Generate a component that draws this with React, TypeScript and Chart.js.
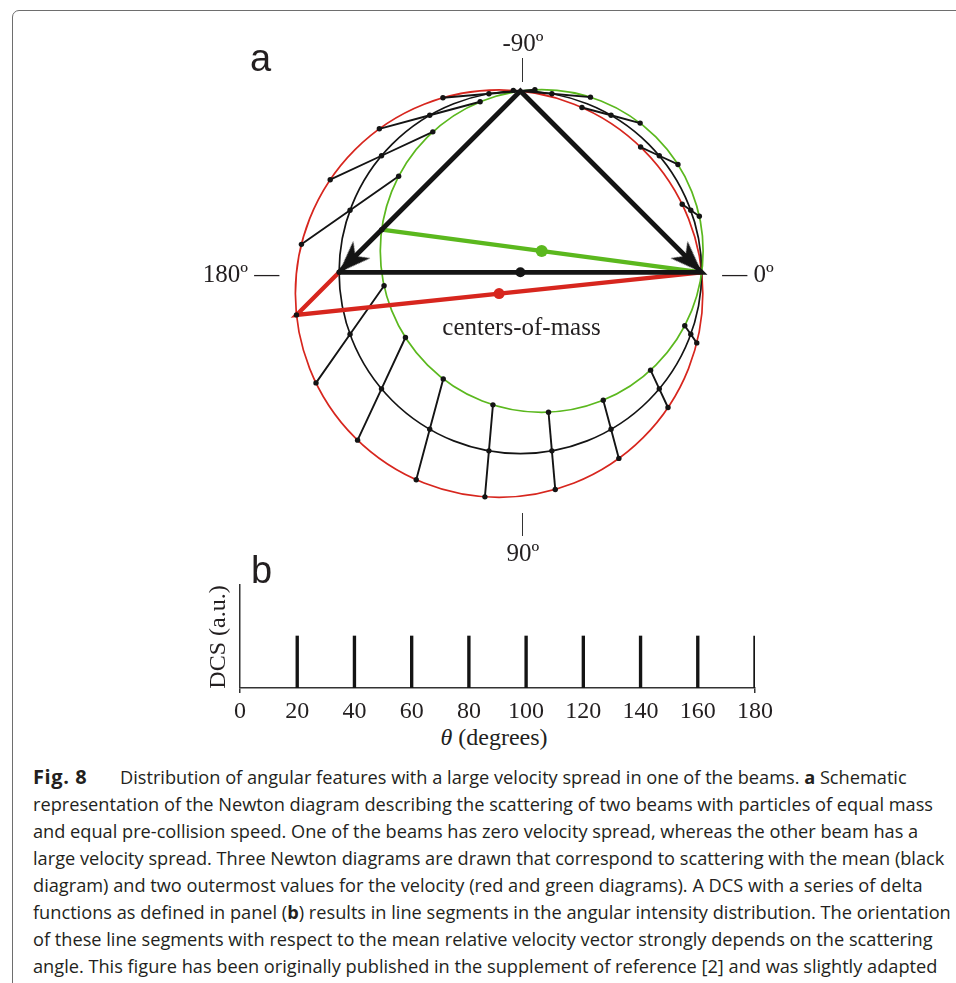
import { useEffect, useRef } from "react";
import Chart from "chart.js/auto";

// ---- panel b: DCS made of delta functions ----
const DCS_ANGLES = [20, 40, 60, 80, 100, 120, 140, 160, 180];
const DCS_VALUES = [1, 1, 1, 1, 1, 1, 1, 1, 1];
const DCS_TICKS = [0, 20, 40, 60, 80, 100, 120, 140, 160, 180];

// ---- panel a: Newton diagram (unit = half the mean relative speed) ----
const LAB_ORIGIN = [0, 1];
const BEAM_A_MEAN = [-1, -1]; // beam with the large velocity spread
const BEAM_B = [1, -1]; // beam with zero spread
const SPEED_FACTORS = [1.235, 1, 0.765]; // red (fast), black (mean), green (slow)
const DIAGRAM_COLORS = ["#d7261e", "#141414", "#5bb81e"];
const COM_DOT_RADIUS = [5.5, 5, 6];

// layout of panel a on the page
const A_LEFT = 160, A_TOP = 20, A_W = 720, A_H = 540;
const UNIT_PX = 181.3;
const CENTER_PX = [520.4, 272.3];

const SERIF = "'Liberation Serif', 'Times New Roman', serif";
const SANS = "'Liberation Sans', Arial, sans-serif";
const CAPTION_FONT = "'Open Sans', 'Noto Sans', sans-serif";
const INK = "#231f20";

type P = { x: number; y: number };

function buildDiagram(s: number) {
  const a = { x: LAB_ORIGIN[0] + s * BEAM_A_MEAN[0], y: LAB_ORIGIN[1] + s * BEAM_A_MEAN[1] };
  const b = { x: LAB_ORIGIN[0] + BEAM_B[0], y: LAB_ORIGIN[1] + BEAM_B[1] };
  const c = { x: (a.x + b.x) / 2, y: (a.y + b.y) / 2 };
  const rx = (b.x - a.x) / 2, ry = (b.y - a.y) / 2;
  const R = Math.hypot(rx, ry);
  // point on the Newton sphere at scattering angle deg (from the relative velocity)
  const at = (deg: number): P => {
    const t = (deg * Math.PI) / 180;
    return { x: c.x + rx * Math.cos(t) - ry * Math.sin(t), y: c.y + rx * Math.sin(t) + ry * Math.cos(t) };
  };
  return { a, b, c, R, at };
}

function makeArrowHead(): HTMLCanvasElement {
  const cv = document.createElement("canvas");
  cv.width = 72;
  cv.height = 72;
  const g = cv.getContext("2d")!;
  const m = 36;
  g.fillStyle = "#141414";
  g.beginPath();
  g.moveTo(m, m);
  g.lineTo(m + 12, m + 32);
  g.lineTo(m, m + 23);
  g.lineTo(m - 12, m + 32);
  g.closePath();
  g.fill();
  return cv;
}

function Text({ x, y, size = 25, family = SERIF, children, rotate = 0 }: any) {
  return (
    <div
      style={{
        position: "absolute", left: x, top: y, fontFamily: family, fontSize: size, lineHeight: 1,
        color: INK, whiteSpace: "nowrap", transform: `translate(-50%, -50%) rotate(${rotate}deg)`,
      }}
    >
      {children}
    </div>
  );
}

function Tick({ x, y1, y2 }: { x: number; y1: number; y2: number }) {
  return <div style={{ position: "absolute", left: x - 0.65, top: y1, width: 1.3, height: y2 - y1, background: "#333" }} />;
}

const CAPTION = [
  <><b style={{ display: "inline-block", width: 87, fontSize: 20, letterSpacing: 0.6 }}>Fig. 8</b>Distribution of angular features with a large velocity spread in one of the beams. <b>a</b> Schematic</>,
  <>representation of the Newton diagram describing the scattering of two beams with particles of equal mass</>,
  <>and equal pre-collision speed. One of the beams has zero velocity spread, whereas the other beam has a</>,
  <>large velocity spread. Three Newton diagrams are drawn that correspond to scattering with the mean (black</>,
  <>diagram) and two outermost values for the velocity (red and green diagrams). A DCS with a series of delta</>,
  <>functions as defined in panel (<b>b</b>) results in line segments in the angular intensity distribution. The orientation</>,
  <>of these line segments with respect to the mean relative velocity vector strongly depends on the scattering</>,
  <>angle. This figure has been originally published in the supplement of reference [2] and was slightly adapted</>,
];

export default function App() {
  const aRef = useRef<HTMLCanvasElement>(null);
  const bRef = useRef<HTMLCanvasElement>(null);

  useEffect(() => {
    if (!aRef.current || !bRef.current) return;
    const arrow = makeArrowHead();

    const diagrams = SPEED_FACTORS.map(buildDiagram);
    const [red, black, green] = diagrams;
    const segAngles = DCS_ANGLES.flatMap((t) => (t < 180 ? [-t, t] : [t]));
    const segments = segAngles.map((t) => [red.at(t), black.at(t), green.at(t)]);

    const heading = (p: P) => (Math.atan2(p.x - LAB_ORIGIN[0], p.y - LAB_ORIGIN[1]) * 180) / Math.PI;
    const origin = { x: LAB_ORIGIN[0], y: LAB_ORIGIN[1] };

    // Newton circles, drawn through the chart's own scales
    const newtonCircles = {
      id: "newtonCircles",
      beforeDatasetsDraw(chart: any) {
        const { ctx, scales: { x, y } } = chart;
        ctx.save();
        ctx.lineWidth = 1.7;
        diagrams.forEach((d, i) => {
          const r = Math.abs(x.getPixelForValue(d.R) - x.getPixelForValue(0));
          ctx.strokeStyle = DIAGRAM_COLORS[i];
          ctx.beginPath();
          ctx.arc(x.getPixelForValue(d.c.x), y.getPixelForValue(d.c.y), r, 0, Math.PI * 2);
          ctx.stroke();
        });
        ctx.restore();
      },
    };

    const datasets: any[] = [
      ...segments.map((pts) => ({
        data: pts,
        showLine: true,
        borderColor: "#141414",
        borderWidth: 1.9,
        pointRadius: 0,
        clip: false,
        order: 40,
      })),
      {
        data: [black.a, red.a, red.b],
        showLine: true,
        borderColor: DIAGRAM_COLORS[0],
        borderWidth: 4.3,
        borderJoinStyle: "miter",
        pointRadius: 0,
        clip: false,
        order: 30,
      },
      {
        data: [green.a, green.b],
        showLine: true,
        borderColor: DIAGRAM_COLORS[2],
        borderWidth: 4.3,
        pointRadius: 0,
        clip: false,
        order: 30,
      },
      {
        data: [black.a, origin, black.b, black.a],
        showLine: true,
        borderColor: DIAGRAM_COLORS[1],
        borderWidth: 4.8,
        borderJoinStyle: "miter",
        pointRadius: 0,
        clip: false,
        order: 20,
      },
      ...[black.a, black.b].map((p) => ({
        data: [p],
        pointStyle: arrow,
        pointRadius: 5,
        pointRotation: heading(p),
        clip: false,
        order: 10,
      })),
      {
        data: segments.flat(),
        pointRadius: 2.7,
        pointBackgroundColor: "#141414",
        pointBorderWidth: 0,
        clip: false,
        order: 5,
      },
      {
        data: diagrams.map((d) => d.c),
        pointRadius: COM_DOT_RADIUS,
        pointBackgroundColor: DIAGRAM_COLORS,
        pointBorderWidth: 0,
        clip: false,
        order: 0,
      },
    ];

    const chartA = new Chart(aRef.current, {
      type: "scatter",
      data: { datasets },
      options: {
        animation: false,
        responsive: false,
        events: [],
        layout: { padding: 0, autoPadding: false },
        plugins: { legend: { display: false }, tooltip: { enabled: false } },
        scales: {
          x: { type: "linear", display: false, min: (A_LEFT - CENTER_PX[0]) / UNIT_PX, max: (A_LEFT + A_W - CENTER_PX[0]) / UNIT_PX },
          y: { type: "linear", display: false, min: (CENTER_PX[1] - A_TOP - A_H) / UNIT_PX, max: (CENTER_PX[1] - A_TOP) / UNIT_PX },
        },
      } as any,
      plugins: [newtonCircles],
    });

    const chartB = new Chart(bRef.current, {
      type: "bar",
      data: {
        datasets: [{
          data: DCS_ANGLES.map((a, i) => ({ x: a, y: DCS_VALUES[i] })),
          backgroundColor: "#141414",
          barThickness: 2.7,
        }],
      },
      options: {
        animation: false,
        responsive: false,
        events: [],
        layout: { padding: { left: 40, right: 45, top: 10, bottom: 0 } },
        plugins: { legend: { display: false }, tooltip: { enabled: false } },
        scales: {
          x: {
            type: "linear",
            min: 0,
            max: 180,
            offset: false,
            afterBuildTicks: (s: any) => { s.ticks = DCS_TICKS.map((v) => ({ value: v })); },
            afterFit: (s: any) => { s.height = 36; },
            ticks: { color: INK, font: { family: SERIF, size: 24 }, padding: 4, maxRotation: 0, autoSkip: false },
            border: { display: true, color: "#333", width: 1.5 },
            grid: {
              offset: false,
              drawOnChartArea: true,
              tickLength: 5,
              lineWidth: 1.5,
              color: (c: any) => (c.tick && c.tick.value === 0 ? "#333" : "rgba(0,0,0,0)"),
              tickColor: (c: any) => (c.tick && (c.tick.value === 0 || c.tick.value === 180) ? "#333" : "rgba(0,0,0,0)"),
            },
          },
          y: { display: false, min: 0, max: 2 },
        },
      } as any,
    });

    return () => {
      chartA.destroy();
      chartB.destroy();
    };
  }, []);

  return (
    <div style={{ position: "absolute", left: 0, top: 0, width: 956, height: 983, overflow: "hidden", background: "#fff" }}>
      <div style={{ position: "absolute", left: 12, top: 10, width: 980, height: 1000, border: "1px solid #6e6e6e", borderRadius: 7 }} />

      {/* panel a */}
      <canvas ref={aRef} width={A_W} height={A_H} style={{ position: "absolute", left: A_LEFT, top: A_TOP, width: A_W, height: A_H }} />
      <div style={{ position: "absolute", left: 250, top: 39, fontFamily: SANS, fontSize: 38, lineHeight: 1, color: INK }}>a</div>
      <Text x={523} y={41.5}>-90º</Text>
      <Tick x={522.3} y1={58} y2={82} />
      <Text x={241} y={273}>180º —</Text>
      <Text x={748} y={273}>— 0º</Text>
      <Tick x={522.5} y1={513} y2={536} />
      <Text x={523} y={551.5}>90º</Text>
      <Text x={521.5} y={326}>centers-of-mass</Text>

      {/* panel b */}
      <canvas ref={bRef} width={600} height={150} style={{ position: "absolute", left: 200, top: 574, width: 600, height: 150 }} />
      <div style={{ position: "absolute", left: 251, top: 551, fontFamily: SANS, fontSize: 38, lineHeight: 1, color: INK }}>b</div>
      <Text x={217} y={636.5} size={24} rotate={-90}>DCS (a.u.)</Text>
      <Text x={494} y={737} size={24}><i>θ</i> (degrees)</Text>

      {/* caption */}
      <div style={{ position: "absolute", left: 33, top: 763, fontFamily: CAPTION_FONT, fontSize: 18.2, lineHeight: "27px", color: INK }}>
        {CAPTION.map((line, i) => (
          <div key={i} style={{ whiteSpace: "nowrap" }}>{line}</div>
        ))}
      </div>
    </div>
  );
}
